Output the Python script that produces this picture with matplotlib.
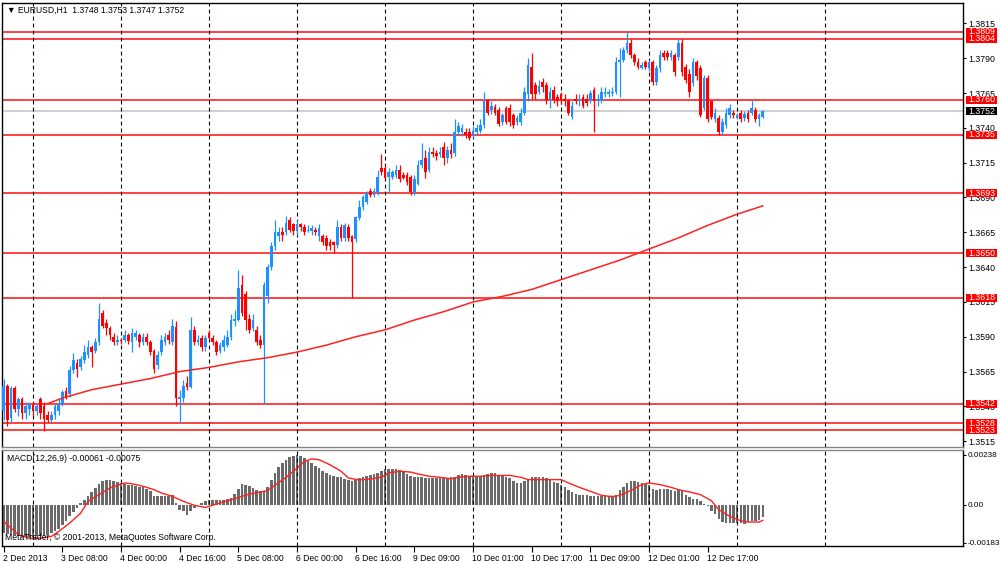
import matplotlib.pyplot as plt
import matplotlib.transforms as mtransforms
from matplotlib.patches import Rectangle
import numpy as np

# EURUSD H1 candles, 2 Dec 16:00 .. 13 Dec 07:00 (one entry per bar)
opens = [
    1.3537, 1.3555, 1.3532, 1.3553, 1.3538, 1.3545, 1.3535, 1.3538, 1.3541, 1.3537,
    1.3545, 1.3540, 1.3534, 1.3530, 1.3534, 1.3537, 1.3542, 1.3551, 1.3549, 1.3566,
    1.3571, 1.3568, 1.3573, 1.3577, 1.3583, 1.3580, 1.3586, 1.3607, 1.3600, 1.3596,
    1.3590, 1.3586, 1.3588, 1.3588, 1.3591, 1.3586, 1.3590, 1.3591, 1.3586, 1.3590,
    1.3586, 1.3580, 1.3570, 1.3579, 1.3586, 1.3591, 1.3586, 1.3597, 1.3545, 1.3546,
    1.3557, 1.3554, 1.3595, 1.3586, 1.3589, 1.3583, 1.3593, 1.3589, 1.3586, 1.3580,
    1.3583, 1.3584, 1.3590, 1.3601, 1.3602, 1.3627, 1.3621, 1.3603, 1.3596, 1.3595,
    1.3588, 1.3584, 1.3619, 1.3640, 1.3655, 1.3662, 1.3665, 1.3665, 1.3674, 1.3671,
    1.3666, 1.3671, 1.3669, 1.3666, 1.3666, 1.3667, 1.3662, 1.3662, 1.3661, 1.3658,
    1.3658, 1.3656, 1.3669, 1.3661, 1.3669, 1.3662, 1.3660, 1.3675, 1.3683, 1.3687,
    1.3695, 1.3692, 1.3694, 1.3711, 1.3711, 1.3705, 1.3705, 1.3706, 1.3710, 1.3706,
    1.3706, 1.3705, 1.3693, 1.3700, 1.3713, 1.3718, 1.3710, 1.3723, 1.3722, 1.3721,
    1.3726, 1.3718, 1.3724, 1.3722, 1.3737, 1.3737, 1.3737, 1.3737, 1.3735, 1.3737,
    1.3738, 1.3742, 1.3760, 1.3753, 1.3755, 1.3753, 1.3744, 1.3754, 1.3754, 1.3749,
    1.3744, 1.3744, 1.3751, 1.3764, 1.3784, 1.3771, 1.3766, 1.3773, 1.3771, 1.3760,
    1.3767, 1.3762, 1.3764, 1.3761, 1.3759, 1.3748, 1.3761, 1.3759, 1.3762, 1.3761,
    1.3760, 1.3767, 1.3759, 1.3760, 1.3764, 1.3764, 1.3765, 1.3766, 1.3787, 1.3789,
    1.3796, 1.3801, 1.3792, 1.3787, 1.3783, 1.3787, 1.3783, 1.3787, 1.3773, 1.3783,
    1.3794, 1.3794, 1.3791, 1.3792, 1.3791, 1.3801, 1.3784, 1.3779, 1.3772, 1.3787,
    1.3783, 1.3754, 1.3776, 1.3759, 1.3746, 1.3747, 1.3737, 1.3742, 1.3749, 1.3751,
    1.3747, 1.3751, 1.3747, 1.3751, 1.3751, 1.3753, 1.3746, 1.3748,
]
highs = [
    1.3560, 1.3556, 1.3555, 1.3555, 1.3547, 1.3547, 1.3543, 1.3543, 1.3543, 1.3542,
    1.3547, 1.3543, 1.3537, 1.3537, 1.3542, 1.3545, 1.3552, 1.3554, 1.3569, 1.3578,
    1.3574, 1.3576, 1.3584, 1.3588, 1.3584, 1.3589, 1.3614, 1.3609, 1.3603, 1.3598,
    1.3593, 1.3591, 1.3589, 1.3595, 1.3593, 1.3596, 1.3595, 1.3593, 1.3593, 1.3593,
    1.3588, 1.3581, 1.3580, 1.3591, 1.3593, 1.3595, 1.3603, 1.3601, 1.3552, 1.3559,
    1.3562, 1.3604, 1.3598, 1.3591, 1.3591, 1.3591, 1.3595, 1.3591, 1.3588, 1.3586,
    1.3591, 1.3595, 1.3606, 1.3609, 1.3638, 1.3634, 1.3623, 1.3606, 1.3606, 1.3598,
    1.3591, 1.3629, 1.3642, 1.3658, 1.3674, 1.3669, 1.3669, 1.3677, 1.3676, 1.3672,
    1.3674, 1.3672, 1.3671, 1.3670, 1.3670, 1.3669, 1.3671, 1.3664, 1.3663, 1.3660,
    1.3659, 1.3674, 1.3671, 1.3672, 1.3671, 1.3663, 1.3677, 1.3688, 1.3692, 1.3695,
    1.3697, 1.3697, 1.3710, 1.3721, 1.3713, 1.3711, 1.3710, 1.3713, 1.3713, 1.3708,
    1.3708, 1.3706, 1.3706, 1.3717, 1.3729, 1.3724, 1.3726, 1.3726, 1.3724, 1.3726,
    1.3730, 1.3727, 1.3729, 1.3746, 1.3744, 1.3743, 1.3740, 1.3740, 1.3741, 1.3743,
    1.3746, 1.3766, 1.3761, 1.3759, 1.3757, 1.3755, 1.3751, 1.3756, 1.3757, 1.3751,
    1.3749, 1.3754, 1.3769, 1.3790, 1.3794, 1.3773, 1.3774, 1.3776, 1.3773, 1.3769,
    1.3770, 1.3764, 1.3766, 1.3764, 1.3761, 1.3759, 1.3764, 1.3764, 1.3764, 1.3764,
    1.3767, 1.3769, 1.3764, 1.3769, 1.3769, 1.3768, 1.3769, 1.3791, 1.3797, 1.3798,
    1.3809, 1.3804, 1.3794, 1.3790, 1.3787, 1.3789, 1.3789, 1.3789, 1.3785, 1.3796,
    1.3796, 1.3796, 1.3796, 1.3794, 1.3804, 1.3804, 1.3786, 1.3782, 1.3790, 1.3789,
    1.3785, 1.3778, 1.3778, 1.3760, 1.3754, 1.3749, 1.3747, 1.3754, 1.3757, 1.3753,
    1.3751, 1.3753, 1.3752, 1.3753, 1.3760, 1.3755, 1.3751, 1.3753,
]
lows = [
    1.3530, 1.3526, 1.3529, 1.3536, 1.3533, 1.3531, 1.3531, 1.3534, 1.3533, 1.3534,
    1.3531, 1.3522, 1.3529, 1.3529, 1.3531, 1.3534, 1.3540, 1.3545, 1.3547, 1.3564,
    1.3561, 1.3566, 1.3571, 1.3575, 1.3568, 1.3578, 1.3584, 1.3596, 1.3591, 1.3588,
    1.3584, 1.3584, 1.3585, 1.3586, 1.3585, 1.3579, 1.3588, 1.3583, 1.3584, 1.3584,
    1.3577, 1.3564, 1.3567, 1.3577, 1.3584, 1.3585, 1.3584, 1.3540, 1.3528, 1.3543,
    1.3552, 1.3553, 1.3584, 1.3584, 1.3580, 1.3580, 1.3588, 1.3584, 1.3577, 1.3578,
    1.3580, 1.3583, 1.3588, 1.3598, 1.3601, 1.3605, 1.3595, 1.3593, 1.3594, 1.3584,
    1.3582, 1.3542, 1.3614, 1.3638, 1.3652, 1.3659, 1.3659, 1.3663, 1.3665, 1.3663,
    1.3663, 1.3666, 1.3663, 1.3665, 1.3663, 1.3663, 1.3659, 1.3656, 1.3652, 1.3652,
    1.3650, 1.3654, 1.3659, 1.3659, 1.3659, 1.3618, 1.3658, 1.3674, 1.3681, 1.3685,
    1.3690, 1.3690, 1.3692, 1.3706, 1.3703, 1.3693, 1.3703, 1.3704, 1.3701, 1.3703,
    1.3699, 1.3692, 1.3692, 1.3699, 1.3711, 1.3704, 1.3708, 1.3719, 1.3717, 1.3719,
    1.3713, 1.3715, 1.3718, 1.3720, 1.3735, 1.3734, 1.3733, 1.3731, 1.3733, 1.3735,
    1.3736, 1.3740, 1.3749, 1.3750, 1.3749, 1.3741, 1.3742, 1.3743, 1.3741, 1.3740,
    1.3742, 1.3742, 1.3749, 1.3759, 1.3761, 1.3761, 1.3764, 1.3766, 1.3757, 1.3754,
    1.3758, 1.3756, 1.3757, 1.3756, 1.3749, 1.3746, 1.3757, 1.3756, 1.3754, 1.3756,
    1.3758, 1.3737, 1.3756, 1.3758, 1.3762, 1.3762, 1.3763, 1.3764, 1.3762, 1.3787,
    1.3794, 1.3790, 1.3785, 1.3782, 1.3782, 1.3782, 1.3781, 1.3771, 1.3771, 1.3780,
    1.3789, 1.3789, 1.3789, 1.3777, 1.3789, 1.3777, 1.3772, 1.3762, 1.3770, 1.3774,
    1.3748, 1.3753, 1.3744, 1.3746, 1.3744, 1.3735, 1.3735, 1.3740, 1.3747, 1.3747,
    1.3746, 1.3744, 1.3745, 1.3744, 1.3749, 1.3744, 1.3741, 1.3747,
]
closes = [
    1.3555, 1.3530, 1.3553, 1.3538, 1.3545, 1.3535, 1.3540, 1.3541, 1.3537, 1.3540,
    1.3535, 1.3531, 1.3530, 1.3534, 1.3540, 1.3542, 1.3550, 1.3546, 1.3566, 1.3573,
    1.3567, 1.3574, 1.3579, 1.3583, 1.3579, 1.3586, 1.3603, 1.3598, 1.3596, 1.3591,
    1.3586, 1.3588, 1.3587, 1.3591, 1.3587, 1.3593, 1.3593, 1.3586, 1.3590, 1.3586,
    1.3579, 1.3567, 1.3577, 1.3588, 1.3590, 1.3588, 1.3598, 1.3546, 1.3547, 1.3555,
    1.3554, 1.3595, 1.3586, 1.3588, 1.3583, 1.3589, 1.3589, 1.3586, 1.3579, 1.3584,
    1.3588, 1.3590, 1.3602, 1.3603, 1.3625, 1.3607, 1.3602, 1.3595, 1.3602, 1.3586,
    1.3584, 1.3627, 1.3640, 1.3655, 1.3665, 1.3665, 1.3663, 1.3672, 1.3667, 1.3666,
    1.3671, 1.3669, 1.3665, 1.3667, 1.3668, 1.3665, 1.3668, 1.3658, 1.3655, 1.3655,
    1.3656, 1.3669, 1.3661, 1.3670, 1.3661, 1.3658, 1.3676, 1.3683, 1.3690, 1.3693,
    1.3692, 1.3695, 1.3705, 1.3708, 1.3704, 1.3708, 1.3708, 1.3710, 1.3703, 1.3704,
    1.3701, 1.3694, 1.3703, 1.3713, 1.3717, 1.3708, 1.3723, 1.3721, 1.3720, 1.3723,
    1.3718, 1.3724, 1.3721, 1.3737, 1.3741, 1.3740, 1.3735, 1.3733, 1.3738, 1.3740,
    1.3742, 1.3759, 1.3751, 1.3756, 1.3751, 1.3743, 1.3749, 1.3744, 1.3744, 1.3742,
    1.3747, 1.3751, 1.3766, 1.3785, 1.3764, 1.3764, 1.3770, 1.3769, 1.3760, 1.3766,
    1.3760, 1.3759, 1.3760, 1.3759, 1.3751, 1.3756, 1.3759, 1.3761, 1.3756, 1.3758,
    1.3765, 1.3759, 1.3761, 1.3766, 1.3766, 1.3766, 1.3766, 1.3787, 1.3789, 1.3796,
    1.3801, 1.3792, 1.3787, 1.3784, 1.3785, 1.3784, 1.3787, 1.3773, 1.3783, 1.3792,
    1.3791, 1.3791, 1.3794, 1.3780, 1.3801, 1.3780, 1.3774, 1.3766, 1.3787, 1.3777,
    1.3749, 1.3776, 1.3746, 1.3748, 1.3751, 1.3737, 1.3744, 1.3751, 1.3754, 1.3749,
    1.3749, 1.3746, 1.3750, 1.3746, 1.3754, 1.3746, 1.3749, 1.3752,
]

# moving average (red line in the price window), read every 8 bars
ma_bars = [12, 16, 24, 32, 40, 48, 56, 64, 72, 80, 88, 96, 104, 112, 120, 128,
           136, 144, 152, 160, 168, 176, 184, 192, 200, 207]
ma_vals = [1.3542, 1.3546, 1.3552, 1.3556, 1.3560, 1.3565, 1.3568, 1.3572, 1.3575,
           1.3579, 1.3584, 1.3590, 1.3595, 1.3602, 1.3608, 1.3615, 1.3619, 1.3624,
           1.3631, 1.3638, 1.3645, 1.3653, 1.3661, 1.3670, 1.3678, 1.3684]

# MACD(12,26,9) histogram, one value per bar
macd_hist = [
    -0.00136, -0.00140, -0.00144, -0.00147, -0.00150, -0.00153, -0.00155, -0.00155, -0.00153, -0.00152,
    -0.00152, -0.00148, -0.00144, -0.00137, -0.00128, -0.00115, -0.00096, -0.00077, -0.00056, -0.00035,
    -0.00016, 0.00006, 0.00024, 0.00040, 0.00061, 0.00080, 0.00099, 0.00112, 0.00116, 0.00116,
    0.00113, 0.00108, 0.00105, 0.00100, 0.00096, 0.00093, 0.00089, 0.00086, 0.00083, 0.00077,
    0.00064, 0.00043, 0.00040, 0.00040, 0.00040, 0.00043, 0.00048, 0.00008, -0.00024, -0.00032,
    -0.00048, -0.00029, -0.00016, -0.00003, 0.00008, 0.00016, 0.00021, 0.00022, 0.00021, 0.00022,
    0.00024, 0.00027, 0.00032, 0.00051, 0.00077, 0.00099, 0.00096, 0.00088, 0.00080, 0.00069,
    0.00064, 0.00067, 0.00083, 0.00116, 0.00152, 0.00180, 0.00201, 0.00215, 0.00226, 0.00233,
    0.00238, 0.00233, 0.00223, 0.00211, 0.00199, 0.00183, 0.00175, 0.00163, 0.00152, 0.00144,
    0.00136, 0.00131, 0.00131, 0.00124, 0.00120, 0.00112, 0.00120, 0.00128, 0.00132, 0.00137,
    0.00140, 0.00145, 0.00152, 0.00160, 0.00171, 0.00171, 0.00171, 0.00171, 0.00166, 0.00160,
    0.00148, 0.00137, 0.00131, 0.00131, 0.00131, 0.00129, 0.00128, 0.00128, 0.00128, 0.00128,
    0.00128, 0.00128, 0.00131, 0.00132, 0.00140, 0.00145, 0.00144, 0.00136, 0.00136, 0.00136,
    0.00137, 0.00144, 0.00148, 0.00152, 0.00150, 0.00144, 0.00137, 0.00134, 0.00126, 0.00115,
    0.00104, 0.00102, 0.00112, 0.00124, 0.00131, 0.00131, 0.00131, 0.00131, 0.00128, 0.00118,
    0.00110, 0.00102, 0.00094, 0.00085, 0.00072, 0.00061, 0.00051, 0.00048, 0.00045, 0.00045,
    0.00043, 0.00043, 0.00040, 0.00040, 0.00040, 0.00040, 0.00041, 0.00048, 0.00072, 0.00085,
    0.00102, 0.00112, 0.00112, 0.00107, 0.00102, 0.00099, 0.00096, 0.00077, 0.00069, 0.00073,
    0.00077, 0.00077, 0.00070, 0.00065, 0.00070, 0.00067, 0.00048, 0.00035, 0.00029, 0.00026,
    0.00016, 0.00003, -0.00008, -0.00029, -0.00045, -0.00067, -0.00083, -0.00088, -0.00088, -0.00088,
    -0.00089, -0.00089, -0.00093, -0.00085, -0.00080, -0.00077, -0.00073, -0.00061,
]
# signal line, read at these bars
sig_bars = [0, 2, 4, 7, 10, 13, 15, 18, 21, 23, 26, 29, 32, 33, 35, 38, 41, 43, 46, 49,
            52, 55, 58, 63, 67, 72, 74, 77, 80, 82, 84, 86, 89, 92, 94, 97, 100, 103, 105,
            108, 111, 113, 116, 119, 122, 124, 127, 130, 133, 138, 141, 143, 152, 154, 157,
            160, 163, 165, 167, 169, 172, 174, 176, 179, 182, 184, 187, 190, 193, 195, 198,
            201, 203, 206, 207]
sig_vals = [-0.00080, -0.00112, -0.00144, -0.00160, -0.00160, -0.00152, -0.00128, -0.00088,
            -0.00040, 0.00016, 0.00048, 0.00080, 0.00099, 0.00104, 0.00100, 0.00088, 0.00072,
            0.00056, 0.00040, 0.00016, -0.00003, -0.00013, 0.00003, 0.00029, 0.00051, 0.00067,
            0.00093, 0.00131, 0.00175, 0.00207, 0.00219, 0.00215, 0.00191, 0.00160, 0.00128,
            0.00118, 0.00123, 0.00131, 0.00152, 0.00160, 0.00156, 0.00147, 0.00136, 0.00131,
            0.00124, 0.00131, 0.00136, 0.00136, 0.00140, 0.00140, 0.00131, 0.00120, 0.00120,
            0.00104, 0.00083, 0.00064, 0.00045, 0.00040, 0.00040, 0.00051, 0.00077, 0.00096,
            0.00104, 0.00096, 0.00083, 0.00072, 0.00061, 0.00048, 0.00019, -0.00024, -0.00056,
            -0.00077, -0.00083, -0.00083, -0.00075]

levels = [1.3809, 1.3804, 1.3760, 1.3735, 1.3693, 1.3650, 1.3618, 1.3542, 1.3528, 1.3523]
last_price = 1.3752
price_ticks = [1.3815, 1.3790, 1.3765, 1.3740, 1.3715, 1.3690, 1.3665, 1.3640,
               1.3615, 1.3590, 1.3565, 1.3540, 1.3515]
macd_ticks = [0.00238, 0.0, -0.00183]
macd_tick_labels = ['0.00238', '0.00', '-0.00183']
day_bars = [8, 32, 56, 80, 104, 128, 152, 176, 200, 224]
time_bars = [0, 16, 32, 48, 64, 80, 96, 112, 128, 144, 160, 176, 192]
time_labels = ['2 Dec 2013', '3 Dec 08:00', '4 Dec 00:00', '4 Dec 16:00', '5 Dec 08:00',
               '6 Dec 00:00', '6 Dec 16:00', '9 Dec 09:00', '10 Dec 01:00', '10 Dec 17:00',
               '11 Dec 09:00', '12 Dec 01:00', '12 Dec 17:00']

plt.rcParams['font.family'] = ['Liberation Sans', 'DejaVu Sans']
FS = 6.2      # captions and time scale
FS_Y = 6.3    # price scale
FS_M = 5.9    # MACD scale
BULL = '#1e90ff'
BEAR = '#ff0000'

fig = plt.figure(figsize=(10, 5.62), dpi=100)
ax = fig.add_axes([0.002, 0.2046, 0.961, 0.7901])
axm = fig.add_axes([0.002, 0.0285, 0.961, 0.1708])

o = np.array(opens)
h = np.array(highs)
l = np.array(lows)
c = np.array(closes)
x = np.arange(len(c))
up = c >= o
col = np.where(up, BULL, BEAR)

# levels and current price
for lv in levels:
    ax.axhline(lv, color='#ff3030', lw=1.3, zorder=1)
ax.axhline(last_price, color='#cccccc', lw=1.3, zorder=1)

# candles
ax.vlines(x, np.minimum(l, np.minimum(o, c)), np.maximum(h, np.maximum(o, c)),
          colors=col, lw=0.9, zorder=3)
body = np.maximum(np.abs(c - o), 0.00005)
ax.bar(x, body, bottom=np.minimum(o, c), width=0.75, color=col, linewidth=0, zorder=3)

ax.plot(ma_bars, ma_vals, color='#ff2020', lw=1.1, zorder=4)

# MACD window
axm.bar(x, macd_hist, width=0.68, color='#6a6a6a', linewidth=0, zorder=2)
axm.plot(sig_bars, sig_vals, color='#ff2020', lw=1.0, zorder=3)

for a in (ax, axm):
    for b in day_bars:
        a.axvline(b, color='black', lw=0.8, ls=(0, (3.5, 2.8)), zorder=2)
    a.set_xlim(-0.46, 261.6)
    a.yaxis.tick_right()
    a.tick_params(axis='y', which='both', direction='out', length=2.3, pad=1.2,
                  colors='black', left=False)
    for s in a.spines.values():
        s.set_color('black')
        s.set_linewidth(1.0)

ax.set_ylim(1.351085, 1.382965)
ax.set_yticks(price_ticks)
ax.set_yticklabels(['%.4f' % t for t in price_ticks])
ax.tick_params(axis='y', labelsize=FS_Y)
ax.set_xticks([])
ax.spines['bottom'].set_color('#888888')

axm.set_ylim(-0.001976, 0.002617)
axm.set_yticks(macd_ticks)
axm.set_yticklabels(macd_tick_labels)
axm.tick_params(axis='y', labelsize=FS_M, pad=1.0)
axm.spines['top'].set_color('#888888')
axm.set_xticks(time_bars)
axm.set_xticklabels(time_labels, ha='left')
axm.tick_params(axis='x', direction='out', length=4, pad=2, labelsize=FS)
shift = mtransforms.ScaledTranslation(-1 / 100, 0, fig.dpi_scale_trans)
for lab in axm.get_xticklabels():
    lab.set_transform(lab.get_transform() + shift)

# price label boxes on the right scale
trans = mtransforms.blended_transform_factory(ax.transAxes, ax.transData)
box_h = 0.00056
box_x = 1.0036
box_w = 0.0323
for lv in levels:
    ax.add_patch(Rectangle((box_x, lv - box_h / 2), box_w, box_h, transform=trans,
                           facecolor='#ff0000', edgecolor='none', clip_on=False, zorder=6))
    ax.text(box_x + box_w / 2, lv, '%.4f' % lv, transform=trans, ha='center', va='center',
            color='white', fontsize=FS_Y, clip_on=False, zorder=7)
ax.add_patch(Rectangle((box_x, last_price - box_h / 2), box_w, box_h, transform=trans,
                       facecolor='black', edgecolor='none', clip_on=False, zorder=6))
ax.text(box_x + box_w / 2, last_price, '%.4f' % last_price, transform=trans, ha='center',
        va='center', color='white', fontsize=FS_Y, clip_on=False, zorder=7)

# captions
ax.text(0.005, 0.984, '\u25bc EURUSD,H1  1.3748 1.3753 1.3747 1.3752', transform=ax.transAxes,
        ha='left', va='center', fontsize=FS, color='black', zorder=8)
axm.text(0.005, 0.915, 'MACD(12,26,9) -0.00061 -0.00075', transform=axm.transAxes,
         ha='left', va='center', fontsize=FS, color='black', zorder=8)
axm.text(0.003, 0.085, 'MetaTrader, \u00a9 2001-2013, MetaQuotes Software Corp.',
         transform=axm.transAxes, ha='left', va='center', fontsize=FS, color='black', zorder=8)

fig.savefig('out.png', dpi=100, facecolor='white')
